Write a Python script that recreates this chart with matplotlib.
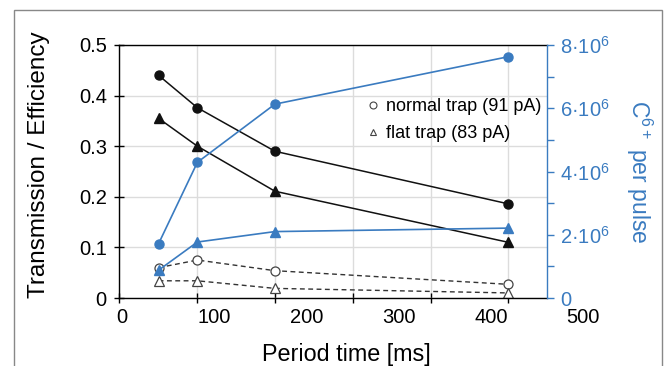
import matplotlib.pyplot as plt
from matplotlib.lines import Line2D
from matplotlib.patches import Rectangle
from matplotlib.ticker import FixedLocator

plt.rcParams['font.family'] = ['Liberation Sans', 'DejaVu Sans']
plt.rcParams['mathtext.default'] = 'regular'

# period time [ms]
period = [40, 82, 166, 419]

# left axis: transmission (filled) and efficiency (open)
trans_normal = [0.440, 0.376, 0.290, 0.186]
trans_flat = [0.355, 0.300, 0.211, 0.110]
eff_normal = [0.060, 0.075, 0.054, 0.027]
eff_flat = [0.034, 0.034, 0.019, 0.010]

# right axis: C6+ ions per pulse
ions_normal = [1.72e6, 4.29e6, 6.13e6, 7.63e6]
ions_flat = [0.88e6, 1.77e6, 2.10e6, 2.21e6]

x_tick_labels = [0, 100, 200, 300, 400, 500]
left_ticks = [0, 0.1, 0.2, 0.3, 0.4, 0.5]
left_tick_labels = ['0', '0.1', '0.2', '0.3', '0.4', '0.5']
right_ticks = [0, 2e6, 4e6, 6e6, 8e6]
right_minor = [1e6, 3e6, 5e6, 7e6]
right_tick_labels = ['0', '2·10$^6$', '4·10$^6$', '6·10$^6$', '8·10$^6$']
legend_labels = ['normal trap (91 pA)', 'flat trap (83 pA)']

blue = '#3a7bc0'

fig = plt.figure(figsize=(6.69, 3.66), dpi=100)
ax = fig.add_axes([119.3 / 669, 1 - 298 / 366, (547 - 119.3) / 669, (298 - 45) / 366])
ax2 = ax.twinx()

# grid / tick marks of the original sit at their own spacing (not at the labels)
grid_x = [-2.6 + 84.3 * k for k in range(6)]
ax.set_xlim(-2.6, 460.8)
ax.set_ylim(0, 0.5)
ax2.set_ylim(0, 8e6)

ax.set_xticks([])
ax.xaxis.set_minor_locator(FixedLocator(grid_x))
ax.tick_params(axis='x', which='minor', direction='inout', length=7, width=1, color='black')
ax.grid(which='minor', axis='x', color='#dcdcdc', lw=1)
ax.set_yticks(left_ticks, left_tick_labels)
ax.tick_params(axis='y', direction='inout', length=7, width=1, labelsize=14.5, pad=5.5)
ax.grid(which='major', axis='y', color='#dcdcdc', lw=1)
ax.set_axisbelow(True)

for v in x_tick_labels:
    ax.annotate(str(v), xy=(v, 0), xycoords=('data', 'axes fraction'), xytext=(0, -7),
                textcoords='offset points', ha='center', va='top', fontsize=14.5,
                annotation_clip=False)

ax2.set_yticks(right_ticks, right_tick_labels)
ax2.yaxis.set_minor_locator(FixedLocator(right_minor))
ax2.tick_params(axis='y', which='both', direction='out', length=5, width=1, color=blue,
                labelcolor=blue, labelsize=14.5, pad=4.5)

for s in ['left', 'top', 'bottom']:
    ax.spines[s].set_linewidth(1.0)
ax.spines['right'].set_visible(False)
for s in ['left', 'top', 'bottom']:
    ax2.spines[s].set_visible(False)
ax2.spines['right'].set_color(blue)
ax2.spines['right'].set_linewidth(1.0)

# transmission
ax.plot(period, trans_normal, '-o', color='#111111', lw=1.1, ms=6.5)
ax.plot(period, trans_flat, '-^', color='#111111', lw=1.1, ms=6.5)
# efficiency
ax.plot(period, eff_normal, 'o', ls=(0, (3.5, 2.5)), color='#333333', lw=1.0, ms=6.5,
        mfc='white', mec='#444444', mew=0.9)
ax.plot(period, eff_flat, '^', ls=(0, (3.5, 2.5)), color='#333333', lw=1.0, ms=6.5,
        mfc='white', mec='#444444', mew=0.9)
# ions per pulse
ax2.plot(period, ions_normal, '-o', color=blue, lw=1.2, ms=6.5)
ax2.plot(period, ions_flat, '-^', color=blue, lw=1.2, ms=6.5)

handles = [Line2D([], [], ls='none', marker=m, ms=5, mfc='white', mec='#444444', mew=0.8)
           for m in ['o', '^']]
ax2.legend(handles, legend_labels, loc='upper left', bbox_to_anchor=(0.578, 0.79),
           frameon=False, fontsize=13, borderpad=0, borderaxespad=0, handlelength=0.7,
           handletextpad=0.4, labelspacing=0.55)

fig.text(38.6 / 669, 1 - 165 / 366, 'Transmission / Efficiency', rotation=90,
         ha='center', va='center', fontsize=17.5)
fig.text(639 / 669, 1 - 171.5 / 366, 'C$^{6+}$ per pulse', rotation=270, color=blue,
         ha='center', va='center', fontsize=16.5)
fig.text(346 / 669, 1 - 361 / 366, 'Period time [ms]', ha='center', va='baseline',
         fontsize=16.8)

fig.add_artist(Rectangle((14 / 669, -0.1), (662 - 14) / 669, 1 - 10 / 366 + 0.1,
                         transform=fig.transFigure, fill=False, ec='#888888', lw=1))

fig.savefig('out.png', dpi=100)
